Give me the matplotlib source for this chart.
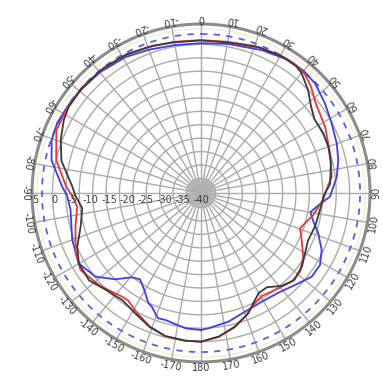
import numpy as np
import matplotlib
matplotlib.use("Agg")
import matplotlib.pyplot as plt
import matplotlib.transforms as mtransforms

# ---------------- data (angle in degrees, clockwise from top; level in dB) -------------
black_ang = [-180, -174, -166, -159, -151, -144, -135, -128, -120, -113.5, -105.6, -97.3,
             -91.4, -87, -77, -69, -62, -57, -48, -38, -28, -18, -10, 0, 10, 22, 31, 37,
             40, 46, 52, 57, 64, 70, 77, 86, 91, 98, 106, 114, 120, 126, 133, 139, 145,
             150, 154, 158.5, 166, 173, 180]
black_db = [0.47, 0.42, 0.15, -0.94, -2.71, -3.83, -2.96, -1.35, -1.62, -3.26, -5.98, -7.42,
            -5.84, -4.89, -1.00, 0.88, 2.30, 2.98, 3.22, 3.14, 2.87, 2.16, 1.67, 1.51, 1.62,
            2.73, 3.22, 3.14, 2.57, 0.47, -1.95, -3.15, -2.96, -3.12, -3.72, -4.78, -6.52,
            -7.28, -7.64, -8.13, -7.28, -6.03, -5.27, -6.49, -8.70, -8.56, -7.07, -4.81,
            -2.44, -0.62, 0.47]

red_ang = [-180, -174, -166, -159, -152, -146, -142.8, -138, -132, -122.6, -115.5, -105,
           -96.3, -91.3, -87.3, -77.2, -66.6, -58, -50, -40, -30, -20, -10, 0, 10, 20, 30,
           36, 41, 46, 52, 57, 62, 73, 83, 89, 93, 101, 109.6, 115, 122, 128.5, 134.4,
           142.7, 149.5, 155, 160.4, 166, 173, 180]
red_db = [0.47, 0.42, 0.15, -1.08, -2.98, -4.62, -4.56, -3.80, -2.58, -1.08, -2.17, -4.62,
          -6.09, -4.94, -3.26, 0.42, 2.90, 3.15, 3.28, 3.14, 2.87, 2.24, 1.78, 1.64, 1.78,
          2.60, 3.28, 3.41, 3.00, 1.64, -0.37, -1.21, -1.73, -3.26, -4.15, -5.98, -6.66,
          -8.86, -11.39, -9.76, -7.20, -5.57, -5.49, -6.79, -7.45, -6.36, -4.26, -2.30,
          -0.53, 0.47]

blue_ang = [-180, -173.5, -164.4, -161, -156.6, -154.5, -149.7, -144.7, -140.6, -135.1,
            -128.4, -120, -110, -97.4, -91.3, -87.4, -77.6, -70.4, -64, -55, -50, -40, -29,
            -20, -10, 0, 10.4, 23, 33.3, 40, 46.1, 54.1, 61.9, 69.9, 76.5, 83.2, 91.6, 96,
            100, 105, 109, 115.3, 121.2, 127.1, 134.4, 142.2, 150.8, 159.7, 168, 176.9, 180]
blue_db = [-2.71, -2.93, -4.10, -3.96, -6.28, -6.74, -9.41, -11.23, -10.30, -6.85, -3.34,
           -1.62, -2.68, -4.18, -3.58, -2.17, 1.67, 3.14, 3.55, 3.28, 3.14, 2.87, 2.32, 1.51,
           0.88, 0.77, 1.24, 2.27, 3.30, 3.41, 3.06, 1.64, 0.31, -0.67, -1.57, -2.79, -4.89,
           -7.88, -9.79, -8.16, -6.25, -3.66, -2.14, -2.22, -4.21, -5.65, -6.11, -5.54,
           -4.18, -3.12, -2.71]

r_labels = ["5", "0", "-5", "-10", "-15", "-20", "-25", "-30", "-35", "-40"]
r_label_vals = [5, 0, -5, -10, -15, -20, -25, -30, -35, -40]
ang_ticks = list(range(-170, 190, 10))

# ---------------- figure -------------
R_MIN, R_MAX = -40.0, 6.0
PX_PER_DB = 169.0 / (R_MAX - R_MIN)
fig = plt.figure(figsize=(3.83, 3.84), dpi=100)
fig.patch.set_facecolor("white")
ax = fig.add_axes([0.0836, 0.0573, 0.8825, 0.8802], projection="polar")
ax.set_theta_zero_location("N")
ax.set_theta_direction(-1)
ax.set_ylim(R_MIN, R_MAX)
ax.set_xticks([])
ax.set_yticks([])
ax.grid(False)
ax.spines["polar"].set_color("#8c8c8c")
ax.spines["polar"].set_linewidth(2.2)

full = np.linspace(0, 2 * np.pi, 721)
grid_col = "#aaaaaa"

# grid rings
for k in range(1, 12):
    rad_px = 1.2 + 13.4 * k
    ax.plot(full, np.full_like(full, R_MIN + rad_px / PX_PER_DB), color=grid_col,
            lw=1.0, zorder=1)

# faint yellowish ring near the rim
ax.plot(full, np.full_like(full, 4.7), color="#f1efcf", lw=1.0, zorder=1)

# spokes every 10 degrees
for a in range(0, 360, 10):
    t = np.deg2rad(a)
    ax.plot([t, t], [R_MIN, R_MAX], color=grid_col, lw=1.0, zorder=1)
# dense short spokes at the centre
for a in np.arange(0, 360, 3):
    t = np.deg2rad(a)
    ax.plot([t, t], [R_MIN, R_MIN + 14.0 / PX_PER_DB], color="#b0b0b0", lw=0.45, zorder=1)

# dashed reference ring
ax.plot(full, np.full_like(full, 3.3), color="#5c5ce8", lw=1.3, ls=(0, (3.5, 3.5)), zorder=2)

# pattern curves
kw = dict(lw=1.3, solid_joinstyle="round", solid_capstyle="round")
ax.plot(np.deg2rad(blue_ang), blue_db, color="#3d3de6", zorder=3, **kw)
ax.plot(np.deg2rad(red_ang), red_db, color="#e03a3a", zorder=4, **kw)
ax.plot(np.deg2rad(black_ang), black_db, color="#3a3a3a", zorder=5, **kw)

# angular labels, oriented with their top towards the centre
for a in ang_ticks:
    rot = 180 - a
    ax.text(np.deg2rad(a), 7.75, str(a), rotation=rot, rotation_mode="anchor",
            ha="center", va="center", fontsize=7, color="#3c3c3c", clip_on=False)

# radial labels along the left horizontal
off = mtransforms.offset_copy(ax.transData, fig=fig, x=0, y=-7.5, units="dots")
for lab, v in zip(r_labels, r_label_vals):
    ax.text(np.deg2rad(-90), v, lab, transform=off, ha="center", va="center",
            fontsize=7, color="#3c3c3c", zorder=6)

fig.savefig("out.png", dpi=100, facecolor="white")
